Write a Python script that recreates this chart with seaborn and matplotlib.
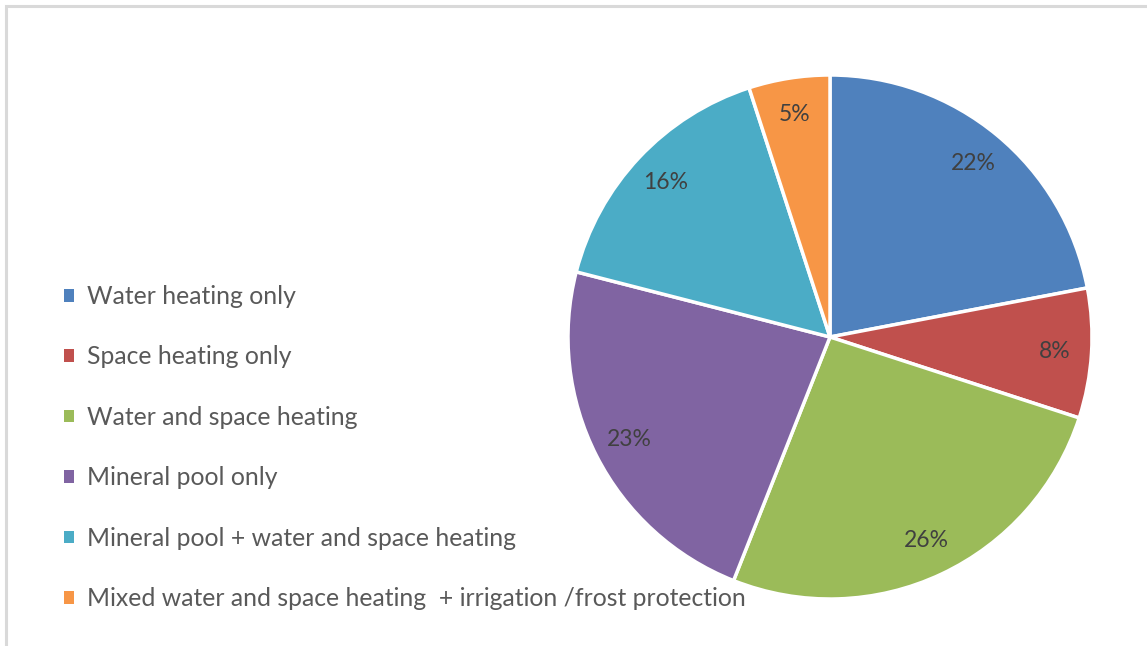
import matplotlib
matplotlib.use("Agg")
import matplotlib.pyplot as plt
from matplotlib.patches import Patch, Rectangle
import seaborn as sns

categories = [
    "Water heating only",
    "Space heating only",
    "Water and space heating",
    "Mineral pool only",
    "Mineral pool + water and space heating",
    "Mixed water and space heating  + irrigation /frost protection",
]
shares = [22, 8, 26, 23, 16, 5]
slice_colors = ["#4F81BD", "#C0504D", "#9BBB59", "#8064A2", "#4BACC6", "#F79646"]

sns.set_theme(style="white")
plt.rcParams["font.family"] = ["Lato", "DejaVu Sans"]

palette = sns.color_palette(slice_colors)

W, H = 1147, 646
fig = plt.figure(figsize=(W / 100, H / 100), dpi=100)
fig.patch.set_facecolor("white")

# chart frame (open to the right and bottom)
fig.patches.append(Rectangle((5.5 / W, -0.1), 1.2, (H - 5.5) / H + 0.1,
                             transform=fig.transFigure, fill=False,
                             edgecolor="#D9D9D9", linewidth=2.2))

cx, cy, r = 830, 337, 262
ax = fig.add_axes([(cx - r) / W, (H - cy - r) / H, 2 * r / W, 2 * r / H])
wedges, texts = ax.pie(
    shares,
    colors=palette,
    startangle=90,
    counterclock=False,
    labels=[f"{v}%" for v in shares],
    labeldistance=0.86,
    wedgeprops=dict(edgecolor="white", linewidth=2.5),
    textprops=dict(color="#404040", fontsize=16.5),
)
for t in texts:
    t.set_horizontalalignment("center")
    t.set_verticalalignment("center")
ax.set_xlim(-1, 1)
ax.set_ylim(-1, 1)
ax.set_aspect("equal")
ax.axis("off")

handles = [Patch(facecolor=c, edgecolor="none") for c in palette]
leg = fig.legend(
    handles, categories,
    loc="upper left",
    bbox_to_anchor=(64 / W, (H - 285) / H),
    frameon=False,
    fontsize=17.8,
    labelcolor="#595959",
    handlelength=0.42,
    handleheight=0.42,
    handletextpad=0.5,
    labelspacing=1.515,
    borderpad=0,
    borderaxespad=0,
)

fig.savefig("out.png", dpi=100, facecolor="white")
